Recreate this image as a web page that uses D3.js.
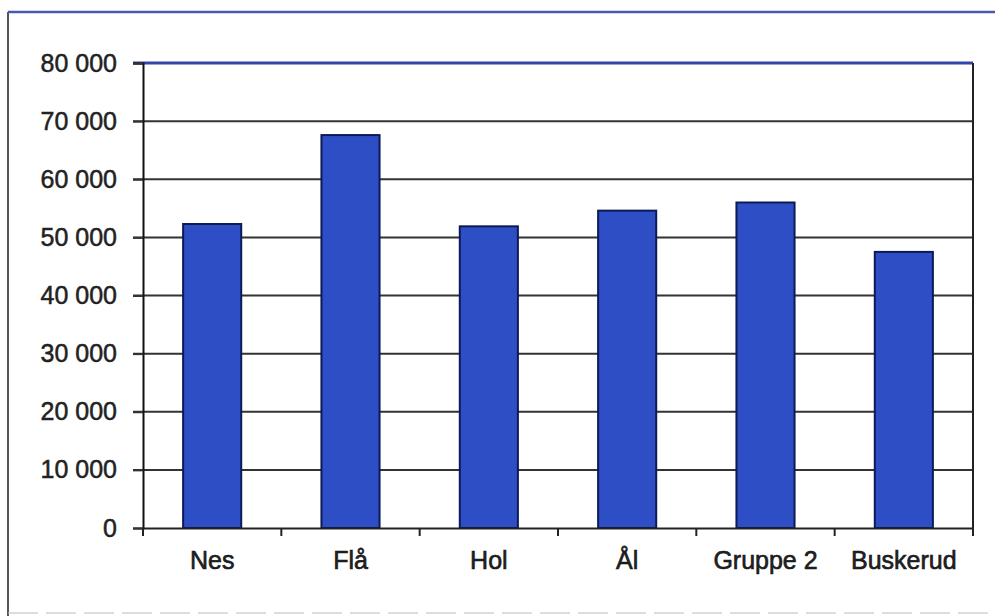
<!DOCTYPE html>
<html>
<head>
<meta charset="utf-8">
<script src="https://cdn.jsdelivr.net/npm/d3@7"></script>
<style>
  body { margin: 0; background: #fff; overflow: hidden; }
  #chart text { font-family: "Liberation Sans", Arial, sans-serif; fill: #222; }
</style>
</head>
<body>
<div id="chart"></div>
<script>
// chart data
const categories = ['Nes', 'Flå', 'Hol', 'Ål', 'Gruppe 2', 'Buskerud'];
const values = [52300, 67600, 51900, 54600, 56000, 47500];
const yTicks = [0, 10000, 20000, 30000, 40000, 50000, 60000, 70000, 80000];

const width = 995;
const height = 616;
const margin = { top: 63, right: 22, bottom: 88, left: 143 };
const innerWidth = width - margin.left - margin.right;
const innerHeight = height - margin.top - margin.bottom;

const svg = d3.select('#chart')
  .append('svg')
  .attr('width', width)
  .attr('height', height)
  .style('display', 'block');

// outer frame (scanned page edge)
svg.append('line')
  .attr('x1', 8).attr('x2', 8).attr('y1', 12).attr('y2', height)
  .attr('stroke', '#555').attr('stroke-width', 2);
svg.append('line')
  .attr('x1', 8).attr('x2', width).attr('y1', 12).attr('y2', 12)
  .attr('stroke', '#4a5aa8').attr('stroke-width', 2.5);
svg.append('line')
  .attr('x1', 8).attr('x2', width).attr('y1', 613).attr('y2', 613)
  .attr('stroke', '#bbb').attr('stroke-width', 1)
  .attr('stroke-dasharray', '30,8');

const g = svg.append('g')
  .attr('transform', `translate(${margin.left},${margin.top})`);

const x = d3.scaleBand()
  .domain(categories)
  .range([0, innerWidth])
  .paddingInner(0.58)
  .paddingOuter(0.29);

const y = d3.scaleLinear()
  .domain([0, 80000])
  .range([innerHeight, 0]);

const fmt = d => d3.format(',')(d).replace(/,/g, ' ');

// gridlines
g.append('g')
  .selectAll('line')
  .data(yTicks.filter(d => d > 0))
  .enter()
  .append('line')
  .attr('x1', -10)
  .attr('x2', innerWidth)
  .attr('y1', d => y(d))
  .attr('y2', d => y(d))
  .attr('stroke', d => d === 80000 ? '#3445a8' : '#333')
  .attr('stroke-width', d => d === 80000 ? 3 : 2);

// bars
g.selectAll('rect.bar')
  .data(values)
  .enter()
  .append('rect')
  .attr('class', 'bar')
  .attr('x', (d, i) => x(categories[i]))
  .attr('y', d => y(d))
  .attr('width', x.bandwidth())
  .attr('height', d => innerHeight - y(d))
  .attr('fill', '#2e4ec6')
  .attr('stroke', '#0c1a55')
  .attr('stroke-width', 2);

// right border of plot area
g.append('line')
  .attr('x1', innerWidth).attr('x2', innerWidth)
  .attr('y1', 0).attr('y2', innerHeight)
  .attr('stroke', '#222').attr('stroke-width', 2);

// y axis
const yAxis = g.append('g')
  .call(d3.axisLeft(y).tickValues(yTicks).tickFormat(fmt).tickSize(10).tickPadding(16));
yAxis.select('.domain').attr('stroke', '#111').attr('stroke-width', 2);
yAxis.selectAll('.tick line').attr('stroke', '#333').attr('stroke-width', 2);
yAxis.selectAll('text')
  .attr('font-size', 25)
  .attr('fill', '#222')
  .attr('stroke', '#222')
  .attr('stroke-width', 0.5);

// x axis with ticks between categories
const xAxis = g.append('g')
  .attr('transform', `translate(0,${innerHeight})`)
  .call(d3.axisBottom(x).tickSize(0).tickPadding(23));
xAxis.select('.domain').attr('stroke', '#222').attr('stroke-width', 2);
xAxis.selectAll('text')
  .attr('font-size', 25)
  .attr('fill', '#111')
  .attr('stroke', '#111')
  .attr('stroke-width', 0.6);

const boundaries = d3.range(categories.length + 1).map(i => i * x.step());
xAxis.selectAll('line.sep')
  .data(boundaries)
  .enter()
  .append('line')
  .attr('class', 'sep')
  .attr('x1', d => d).attr('x2', d => d)
  .attr('y1', 0).attr('y2', 8)
  .attr('stroke', '#222').attr('stroke-width', 2);
</script>
</body>
</html>
